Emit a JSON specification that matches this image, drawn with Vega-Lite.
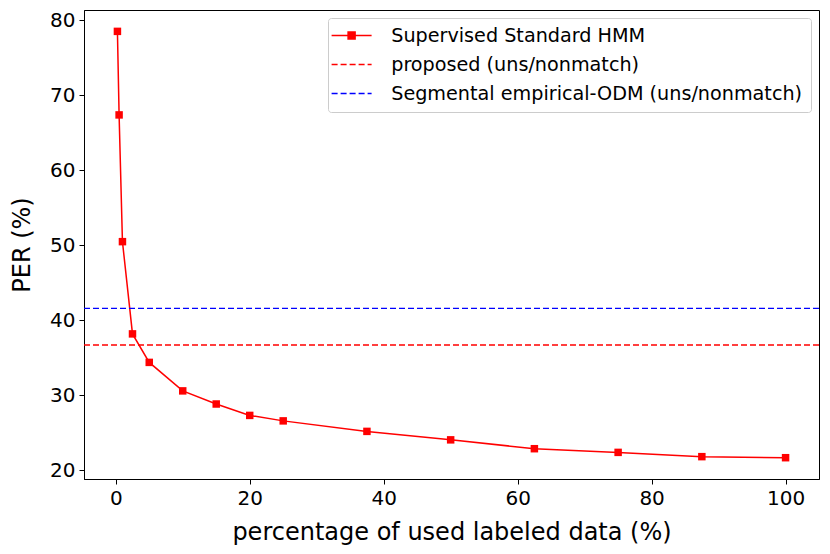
{
  "$schema": "https://vega.github.io/schema/vega-lite/v6.json",
  "width": 735,
  "height": 469,
  "autosize": "none",
  "padding": {"left": 84, "top": 10, "right": 11, "bottom": 75},
  "background": "white",
  "datasets": {
    "hmm": [
      {"series": "Supervised Standard HMM", "pct": 0.25, "per": 78.54},
      {"series": "Supervised Standard HMM", "pct": 0.5, "per": 67.4},
      {"series": "Supervised Standard HMM", "pct": 1, "per": 50.5},
      {"series": "Supervised Standard HMM", "pct": 2.5, "per": 38.2},
      {"series": "Supervised Standard HMM", "pct": 5, "per": 34.4},
      {"series": "Supervised Standard HMM", "pct": 10, "per": 30.6},
      {"series": "Supervised Standard HMM", "pct": 15, "per": 28.85},
      {"series": "Supervised Standard HMM", "pct": 20, "per": 27.33},
      {"series": "Supervised Standard HMM", "pct": 25, "per": 26.6},
      {"series": "Supervised Standard HMM", "pct": 37.5, "per": 25.2},
      {"series": "Supervised Standard HMM", "pct": 50, "per": 24.07},
      {"series": "Supervised Standard HMM", "pct": 62.5, "per": 22.89},
      {"series": "Supervised Standard HMM", "pct": 75, "per": 22.4},
      {"series": "Supervised Standard HMM", "pct": 87.5, "per": 21.83},
      {"series": "Supervised Standard HMM", "pct": 100, "per": 21.69}
    ],
    "baselines": [
      {"series": "proposed (uns/nonmatch)", "per": 36.72},
      {"series": "Segmental empirical-ODM (uns/nonmatch)", "per": 41.6}
    ]
  },
  "layer": [
    {
      "data": {"name": "hmm"},
      "mark": {"type": "line", "strokeWidth": 1.5, "point": {"shape": "square", "size": 56, "filled": true, "color": "#ff0000"}},
      "encoding": {
        "x": {
          "field": "pct",
          "type": "quantitative",
          "title": "percentage of used labeled data (%)",
          "scale": {"domain": [-4.74, 104.99], "nice": false, "zero": false},
          "axis": {"values": [0, 20, 40, 60, 80, 100]}
        },
        "y": {
          "field": "per",
          "type": "quantitative",
          "title": "PER (%)",
          "scale": {"domain": [18.85, 81.39], "nice": false, "zero": false},
          "axis": {"values": [20, 30, 40, 50, 60, 70, 80]}
        },
        "color": {
          "field": "series",
          "type": "nominal",
          "scale": {
            "domain": ["Supervised Standard HMM", "proposed (uns/nonmatch)", "Segmental empirical-ODM (uns/nonmatch)"],
            "range": ["#ff0000", "#ff0000", "#0000ff"]
          },
          "legend": {
            "title": null,
            "orient": "top-right",
            "offset": 8,
            "padding": 8,
            "fillColor": "white",
            "strokeColor": "#cccccc",
            "cornerRadius": 3,
            "labelFont": "DejaVu Sans",
            "labelFontSize": 19.2,
            "labelColor": "black",
            "labelLimit": 0,
            "labelOffset": 36,
            "rowPadding": 9,
            "symbolSize": 100,
            "symbolStrokeWidth": 1.5,
            "encode": {
              "symbols": {
                "update": {
                  "shape": {"signal": "datum.label === 'Supervised Standard HMM' ? 'M-2.8,0H5.2M0.5,-0.7H1.9V0.7H0.5Z' : 'M-2.8,0H-1.6M-1,0H0.2M0.8,0H2M2.6,0H3.8M4.4,0H5.2'"},
                  "fill": {"signal": "datum.label === 'Supervised Standard HMM' ? '#ff0000' : 'transparent'"},
                  "strokeDash": {"value": []}
                }
              }
            }
          }
        }
      }
    },
    {
      "data": {"name": "baselines"},
      "mark": {"type": "rule", "strokeWidth": 1.3, "strokeDash": [6, 3]},
      "encoding": {
        "y": {"field": "per", "type": "quantitative"},
        "color": {"field": "series", "type": "nominal"}
      }
    }
  ],
  "config": {
    "font": "DejaVu Sans",
    "view": {"stroke": "black", "strokeWidth": 1},
    "axis": {
      "grid": false,
      "domainColor": "black",
      "tickColor": "black",
      "tickSize": 5,
      "labelFont": "DejaVu Sans",
      "labelFontSize": 20,
      "labelColor": "black",
      "labelPadding": 4,
      "titleFont": "DejaVu Sans",
      "titleFontSize": 24,
      "titleFontWeight": "normal",
      "titleColor": "black"
    },
    "axisX": {"titlePadding": 12},
    "axisY": {"titlePadding": 15}
  }
}
